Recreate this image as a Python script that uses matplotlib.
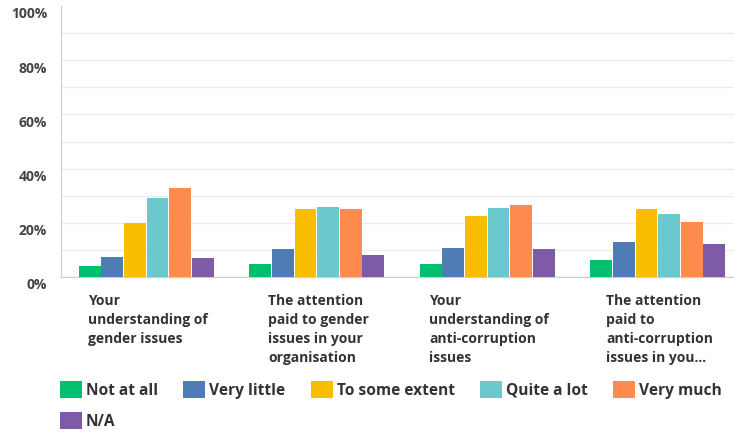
import numpy as np
import matplotlib
matplotlib.use("Agg")
import matplotlib.pyplot as plt
from matplotlib.patches import Patch
from matplotlib.transforms import offset_copy

categories = [
    "Your\nunderstanding of\ngender issues",
    "The attention\npaid to gender\nissues in your\norganisation",
    "Your\nunderstanding of\nanti-corruption\nissues",
    "The attention\npaid to\nanti-corruption\nissues in you...",
]
answers = ["Not at all", "Very little", "To some extent", "Quite a lot", "Very much", "N/A"]
not_at_all = [4.2, 4.7, 4.7, 6.4]
very_little = [7.5, 10.2, 10.8, 13.0]
some_extent = [19.8, 25.2, 22.4, 25.2]
quite_a_lot = [29.1, 25.8, 25.3, 23.1]
very_much = [33.0, 25.2, 26.4, 20.3]
n_a = [6.9, 8.1, 10.2, 12.0]
yticks = [0, 20, 40, 60, 80, 100]
ytick_labels = ["0%", "20%", "40%", "60%", "80%", "100%"]

colors = ["#00bf6f", "#507cb6", "#f9be00", "#6bc8cd", "#ff8b4f", "#7d5ba6"]
series = [not_at_all, very_little, some_extent, quite_a_lot, very_much, n_a]

plt.rcParams["font.family"] = ["Open Sans", "DejaVu Sans"]
plt.rcParams["font.weight"] = "bold"

fig = plt.figure(figsize=(7.34, 4.34), dpi=100)
ax = fig.add_axes([61 / 734, 157 / 434, 682 / 734, 271 / 434])

x = np.arange(len(categories))
step = 0.1325
width = 0.128
for i, (vals, col, name) in enumerate(zip(series, colors, answers)):
    ax.bar(x + (i - 2.5) * step, vals, width=width, color=col, label=name, zorder=3)

ax.set_xlim(-0.5, len(categories) - 0.5)
ax.set_ylim(0, 100)
ax.set_yticks(yticks)
ax.set_yticks(range(10, 100, 20), minor=True)
ax.set_yticklabels(ytick_labels, fontsize=10, color="#444444")
ax.grid(axis="y", which="both", color="#ececec", linewidth=1, zorder=0)
ax.yaxis.get_major_ticks()[-1].gridline.set_visible(False)
ax.tick_params(axis="y", which="both", length=0, pad=10)
ax.tick_params(axis="x", length=0, labelbottom=False)
for lbl in ax.get_yticklabels():
    lbl.set_transform(offset_copy(lbl.get_transform(), fig=fig, y=-5, units="points"))

for side in ["top", "right"]:
    ax.spines[side].set_visible(False)
ax.spines["left"].set_color("#cccccc")
ax.spines["bottom"].set_color("#cccccc")

for xi, text in zip(x, categories):
    ax.text(xi + 0.01, -0.064, text, transform=ax.get_xaxis_transform(), ha="center",
            va="top", multialignment="left", fontsize=10, color="#333333", linespacing=1.45)

# legend fills column-major, so reorder to get five items on the first row
order = [0, 5, 1, 2, 3, 4]
handles = [Patch(facecolor=colors[i], edgecolor="none") for i in order]
fig.legend(handles, [answers[i] for i in order], ncol=5, frameon=False,
           loc="upper left", bbox_to_anchor=(60 / 734, 1 - 381 / 434),
           fontsize=11.2, labelcolor="#333333", handlelength=1.42, handleheight=1.28,
           handletextpad=0.25, columnspacing=1.62, labelspacing=0.88, borderpad=0,
           borderaxespad=0)

fig.savefig("out.png", dpi=100)
